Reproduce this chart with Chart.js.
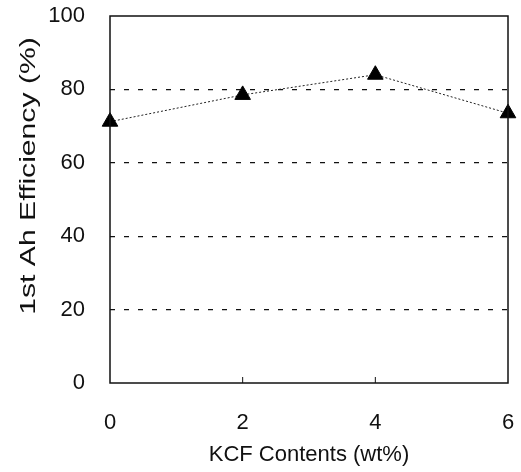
<!DOCTYPE html>
<html>
<head>
<meta charset="utf-8">
<script src="https://cdn.jsdelivr.net/npm/chart.js@4.4.0/dist/chart.umd.min.js"></script>
<style>
	html, body { margin: 0; padding: 0; background: #fff; }
	#wrap { width: 521px; height: 472px; }
</style>
</head>
<body>
<div id="wrap"><canvas id="effChart" width="521" height="472"></canvas></div>
<script>
// data
var kcfContents = [0, 2, 4, 6];
var efficiency = [71.2, 78.5, 84, 73.5];
var xTicks = [0, 2, 4, 6];
var yTicks = [0, 20, 40, 60, 80, 100];
var yTitle = '1st Ah Efficiency (%)';

var points = kcfContents.map(function(x, i) { return { x: x, y: efficiency[i] }; });

// frame, little inward ticks on the bottom axis, and the (stretched) y title
var framePlugin = {
	id: 'frame',
	afterDraw: function(chart) {
		var ctx = chart.ctx, a = chart.chartArea, xs = chart.scales.x;
		ctx.save();
		ctx.strokeStyle = '#111';
		ctx.lineWidth = 1.5;
		ctx.strokeRect(a.left, a.top, a.right - a.left, a.bottom - a.top);
		ctx.lineWidth = 1;
		xTicks.slice(1, -1).forEach(function(v) {
			var px = xs.getPixelForValue(v);
			ctx.beginPath();
			ctx.moveTo(px, a.bottom);
			ctx.lineTo(px, a.bottom - 6);
			ctx.stroke();
		});
		// y title, the scan is stretched vertically
		ctx.translate(29, 176);
		ctx.rotate(-Math.PI / 2);
		ctx.scale(1.37, 1);
		ctx.fillStyle = '#111';
		ctx.font = '22px "Liberation Sans", Arial';
		ctx.textAlign = 'center';
		ctx.textBaseline = 'middle';
		ctx.fillText(yTitle, 0, 0);
		ctx.restore();
	}
};

function noOverflow(s) {
	s.paddingTop = 0; s.paddingBottom = 0; s.paddingLeft = 0; s.paddingRight = 0;
}

var effChart = new Chart(document.getElementById('effChart'), {
	type: 'scatter',
	data: {
		datasets: [{
			data: points,
			showLine: true,
			borderColor: '#222',
			borderWidth: 1,
			borderDash: [2, 2],
			pointStyle: 'triangle',
			pointRadius: 9,
			pointBackgroundColor: '#000',
			pointBorderColor: '#000',
			clip: false
		}]
	},
	options: {
		responsive: false,
		animation: false,
		layout: { padding: { left: 10, right: 13, top: 16, bottom: 0 } },
		plugins: { legend: { display: false }, tooltip: { enabled: false } },
		scales: {
			x: {
				type: 'linear', min: 0, max: 6,
				afterBuildTicks: function(s) { s.ticks = xTicks.map(function(v) { return { value: v }; }); },
				afterFit: function(s) { s.height = 472 - 383; noOverflow(s); },
				grid: { display: false },
				border: { display: false },
				ticks: { color: '#111', padding: 19, font: { family: 'Liberation Sans, Arial', size: 22 } },
				title: {
					display: true, text: 'KCF Contents (wt%)', color: '#111',
					padding: { top: 0, bottom: 4 },
					font: { family: 'Liberation Sans, Arial', size: 22 }
				}
			},
			y: {
				min: 0, max: 100,
				afterBuildTicks: function(s) { s.ticks = yTicks.map(function(v) { return { value: v }; }); },
				afterFit: function(s) { s.width = 110 - 10; noOverflow(s); },
				grid: {
					drawTicks: false,
					color: function(c) { return (c.tick.value === 0 || c.tick.value === 100) ? 'rgba(0,0,0,0)' : '#111'; },
					lineWidth: 1.2
				},
				border: { display: false, dash: [5, 9] },
				ticks: { color: '#111', padding: 25, font: { family: 'Liberation Sans, Arial', size: 22 } },
				title: { display: false }
			}
		}
	},
	plugins: [framePlugin]
});
</script>
</body>
</html>
